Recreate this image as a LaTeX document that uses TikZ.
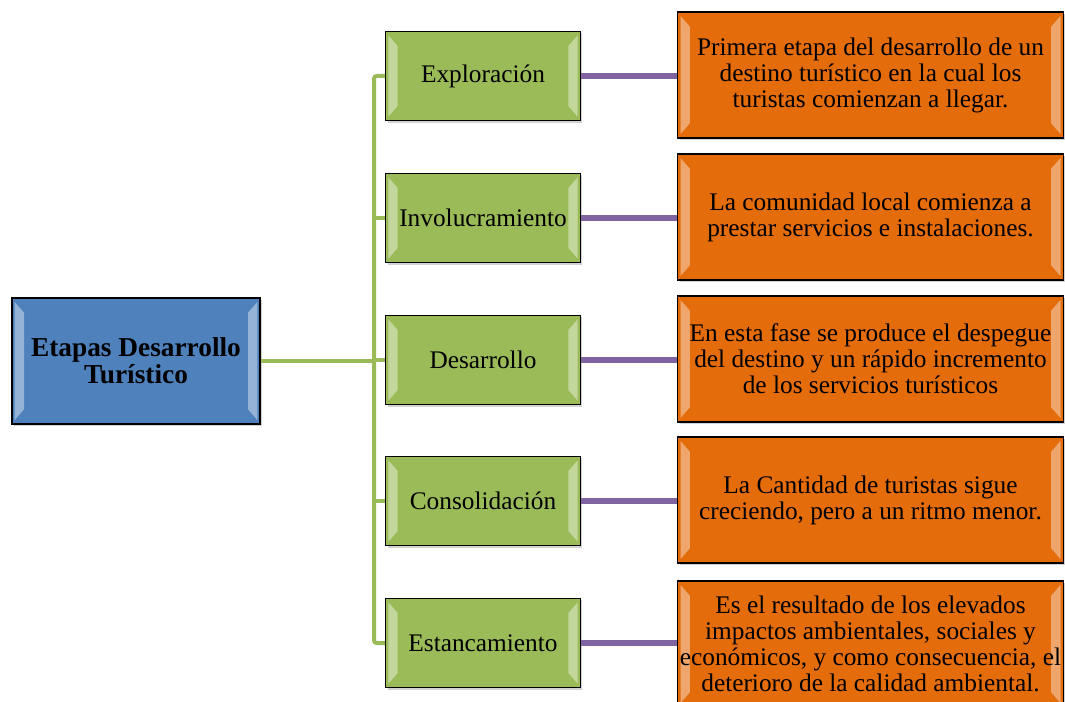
\documentclass[tikz,border=0pt]{standalone}
\usepackage{fontspec}
\setmainfont{Liberation Serif}
\usetikzlibrary{positioning,shadows}

\definecolor{rootblue}{HTML}{4F81BD}
\definecolor{stagegreen}{HTML}{9BBB59}
\definecolor{notesorange}{HTML}{E46C0A}
\definecolor{linkpurple}{HTML}{8064A2}

\tikzset{
    bevel/.style={path picture={
        \fill[white, opacity=0.4]
            ([shift={(2pt,-3pt)}]path picture bounding box.north west) -- ++(7pt,-8pt)
            -- ([shift={(9pt,11pt)}]path picture bounding box.south west) -- ++(-7pt,-8pt) -- cycle;
        \fill[white, opacity=0.4]
            ([shift={(-2pt,-3pt)}]path picture bounding box.north east) -- ++(-7pt,-8pt)
            -- ([shift={(-9pt,11pt)}]path picture bounding box.south east) -- ++(7pt,-8pt) -- cycle;
    }},
    box/.style={draw=black, line width=0.9pt, align=center, inner sep=1pt, bevel,
        font=\fontsize{19}{19.5}\selectfont,
        drop shadow={shadow xshift=1.5pt, shadow yshift=-1.5pt, opacity=0.35}},
    rootbox/.style={box, fill=rootblue, minimum width=186pt, minimum height=94.5pt,
        font=\fontsize{20.5}{20}\selectfont\bfseries},
    stagebox/.style={box, fill=stagegreen, minimum width=146pt, minimum height=67pt},
    notebox/.style={box, fill=notesorange, minimum width=289pt, minimum height=94.5pt},
    trunk/.style={draw=stagegreen, line width=3pt, rounded corners=2pt},
    link/.style={draw=linkpurple, line width=3.8pt}
}

\begin{document}
\begin{tikzpicture}[x=0.75pt, y=-0.75pt]
    \clip (0,0) rectangle (1065,702);
    \fill[white] (0,0) rectangle (1065,702);

    % main node
    \node[rootbox] (etapas) at (136,361) {Etapas Desarrollo\\Turístico};

    % stages
    \node[stagebox] (exploracion) at (483,76) {Exploración};
    \node[stagebox] (involucramiento) at (483,218) {Involucramiento};
    \node[stagebox] (desarrollo) at (483,360) {Desarrollo};
    \node[stagebox] (consolidacion) at (483,501) {Consolidación};
    \node[stagebox] (estancamiento) at (483,643) {Estancamiento};

    % descriptions
    \node[notebox] (nexploracion) at (870.5,75) {Primera etapa del desarrollo de un\\destino turístico en la cual los\\turistas comienzan a llegar.};
    \node[notebox] (ninvolucramiento) at (870.5,217) {La comunidad local comienza a\\prestar servicios e instalaciones.};
    \node[notebox] (ndesarrollo) at (870.5,359) {En esta fase se produce el despegue\\del destino y un rápido incremento\\de los servicios turísticos};
    \node[notebox] (nconsolidacion) at (870.5,500) {La Cantidad de turistas sigue\\creciendo, pero a un ritmo menor.};
    \node[notebox] (nestancamiento) at (870.5,644) {Es el resultado de los elevados\\impactos ambientales, sociales y\\económicos, y como consecuencia, el\\deterioro de la calidad ambiental.};

    % tree lines
    \coordinate (branch) at (374,361);
    \path[trunk] (exploracion.west) -| (branch) |- (estancamiento.west);
    \path[trunk] (etapas.east) -- (branch);
    \foreach \s in {involucramiento,desarrollo,consolidacion}
        \path[trunk] (branch |- \s.west) -- (\s.west);

    \foreach \s/\n in {exploracion/nexploracion,involucramiento/ninvolucramiento,desarrollo/ndesarrollo,consolidacion/nconsolidacion,estancamiento/nestancamiento}
        \path[link] (\s.east) -- (\s.east -| \n.west);
\end{tikzpicture}
\end{document}
